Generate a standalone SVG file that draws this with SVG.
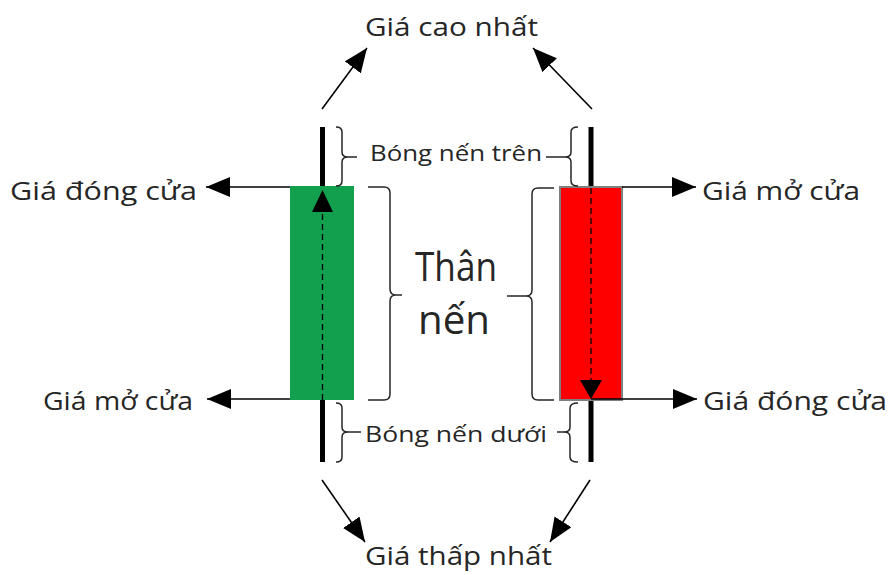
<svg xmlns="http://www.w3.org/2000/svg" width="890" height="575" viewBox="0 0 890 575">
<style>
  text { font-family: "Open Sans", "Liberation Sans", sans-serif; fill: #262626; }
  .lbl { font-size: 25px; }
  .sm { font-size: 21px; }
  .big { font-size: 41px; }
  .arr { stroke: #000; stroke-width: 1.6; fill: none; marker-end: url(#ah); }
  .br { stroke: #262626; stroke-width: 1.5; fill: none; }
  .wick { stroke: #000; stroke-width: 5; }
  .dash { stroke: #000; stroke-width: 1.3; stroke-dasharray: 6 4; }
</style>
<defs>
  <marker id="ah" markerUnits="userSpaceOnUse" markerWidth="26" markerHeight="22" refX="24" refY="10" orient="auto">
    <path d="M0,0 L24,10 L0,20 Z" fill="#000"/>
  </marker>
</defs>
<rect width="890" height="575" fill="#fff"/>

<g id="green-candle">
  <line class="wick" x1="322.5" y1="127" x2="322.5" y2="186"/>
  <line class="wick" x1="322.5" y1="400" x2="322.5" y2="462"/>
  <rect x="290" y="186" width="64" height="214" fill="#13A04E"/>
  <line class="dash" x1="322.5" y1="400" x2="322.5" y2="210"/>
  <path d="M322.5,190 L333,212 L312,212 Z" fill="#000"/>
</g>

<g id="red-candle">
  <line class="wick" x1="591" y1="127" x2="591" y2="187"/>
  <line class="wick" x1="591" y1="400" x2="591" y2="462"/>
  <rect x="560" y="187" width="62" height="213" fill="#FF0000" stroke="#7F7F7F" stroke-width="2"/>
  <line class="dash" x1="591" y1="188" x2="591" y2="382" stroke="#5a0000"/>
  <path d="M591,399 L580,380 L602,380 Z" fill="#000"/>
</g>

<g id="connectors">
  <line class="arr" x1="290" y1="187" x2="206" y2="187"/>
  <line class="arr" x1="290" y1="399" x2="207" y2="399"/>
  <line class="arr" x1="622" y1="187" x2="696" y2="187"/>
  <line class="arr" x1="591" y1="399" x2="697" y2="399"/>
  <line class="arr" x1="322" y1="109" x2="367" y2="48"/>
  <line class="arr" x1="592" y1="109" x2="533" y2="48"/>
  <line class="arr" x1="322" y1="480" x2="365" y2="542"/>
  <line class="arr" x1="590" y1="480" x2="550" y2="542"/>
</g>

<g id="brackets">
  <path class="br" d="M336,127 Q342,127 342,132 L342,152 Q342,157 348,157 L357,157 M348,157 Q342,157 342,162 L342,181 Q342,186 336,186"/>
  <path class="br" d="M578,127 Q571,127 571,132 L571,152 Q571,157 565,157 L546,157 M565,157 Q571,157 571,162 L571,181 Q571,186 578,186"/>
  <path class="br" d="M336,403 Q342,403 342,408 L342,427 Q342,432 348,432 L361,432 M348,432 Q342,432 342,437 L342,457 Q342,462 336,462"/>
  <path class="br" d="M578,403 Q570,403 570,408 L570,427 Q570,432 564,432 L557,432 M564,432 Q570,432 570,437 L570,457 Q570,462 578,462"/>
  <path class="br" d="M368,187 L384,187 Q390,187 390,193 L390,289 Q390,295 396,295 L402,295 M396,295 Q390,295 390,301 L390,394 Q390,400 384,400 L368,400"/>
  <path class="br" d="M554,188 L538,188 Q532,188 532,194 L532,290 Q532,296 526,296 L507,296 M526,296 Q532,296 532,302 L532,394 Q532,400 538,400 L554,400"/>
</g>

<g id="labels">
  <text class="lbl" x="365" y="36" textLength="173" lengthAdjust="spacingAndGlyphs">Giá cao nhất</text>
  <text class="lbl" x="365" y="565" textLength="187" lengthAdjust="spacingAndGlyphs">Giá thấp nhất</text>
  <text class="lbl" x="10" y="200" textLength="187" lengthAdjust="spacingAndGlyphs">Giá đóng cửa</text>
  <text class="lbl" x="43" y="410" textLength="150" lengthAdjust="spacingAndGlyphs">Giá mở cửa</text>
  <text class="lbl" x="702" y="200" textLength="158" lengthAdjust="spacingAndGlyphs">Giá mở cửa</text>
  <text class="lbl" x="703" y="410" textLength="184" lengthAdjust="spacingAndGlyphs">Giá đóng cửa</text>
  <text class="sm" x="370" y="161" textLength="172" lengthAdjust="spacingAndGlyphs">Bóng nến trên</text>
  <text class="sm" x="365" y="442" textLength="182" lengthAdjust="spacingAndGlyphs">Bóng nến dưới</text>
  <text class="big" x="415" y="281" textLength="82" lengthAdjust="spacingAndGlyphs">Thân</text>
  <text class="big" x="418" y="334" textLength="72" lengthAdjust="spacingAndGlyphs">nến</text>
</g>
</svg>
